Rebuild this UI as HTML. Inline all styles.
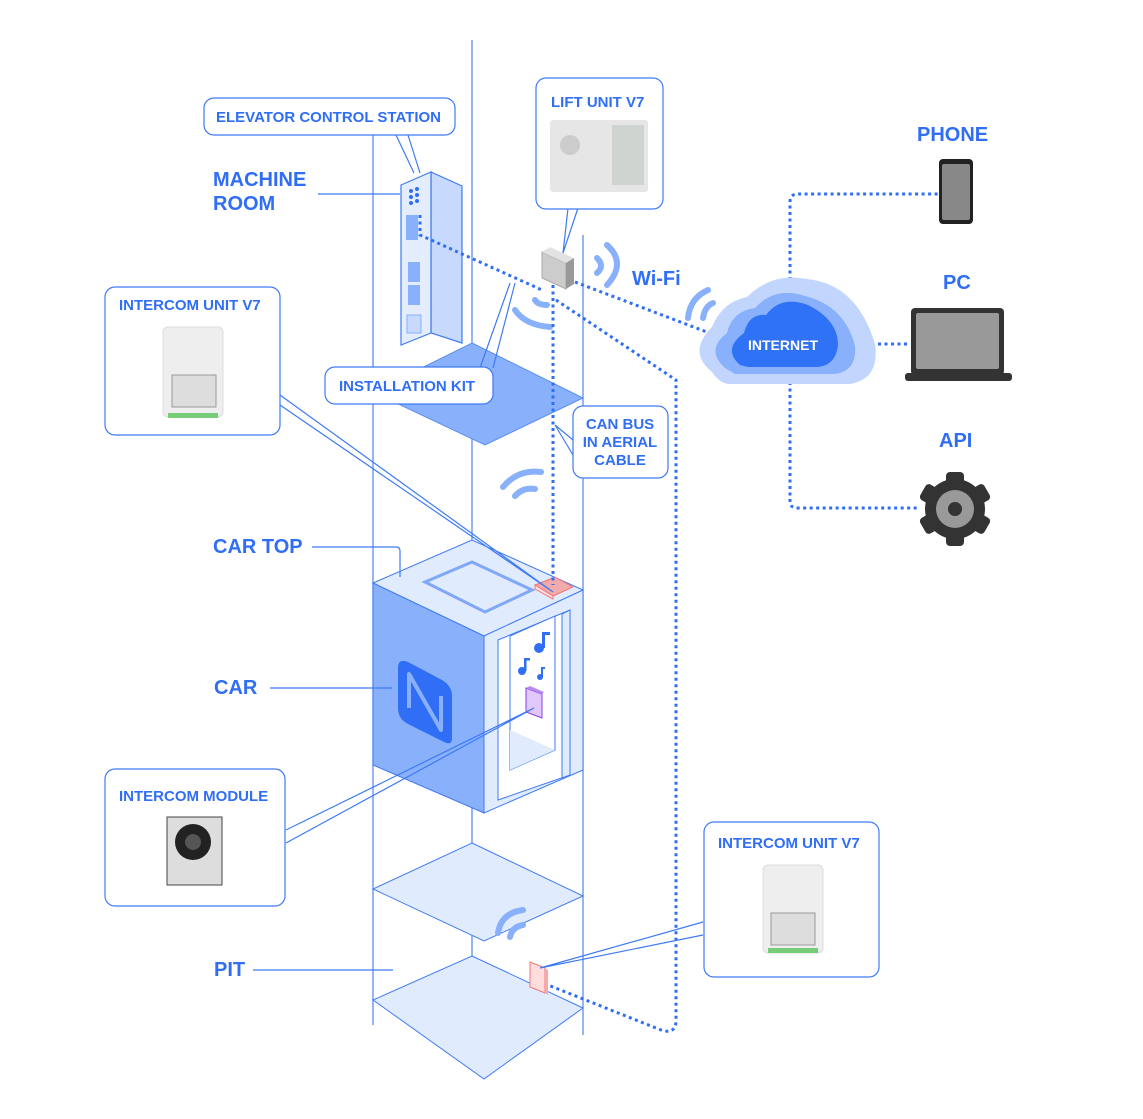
<!DOCTYPE html>
<html><head><meta charset="utf-8"><style>
html,body{margin:0;padding:0;background:#fff}
svg{display:block}
text{font-family:"Liberation Sans",sans-serif;font-weight:bold;fill:#2f6ef5}
</style></head><body>
<svg width="1143" height="1119" viewBox="0 0 1143 1119" xmlns="http://www.w3.org/2000/svg">
<g stroke="#5b8ef5" stroke-width="1.3" fill="none">
<line x1="472" y1="40" x2="472" y2="1030"/>
<line x1="373" y1="130" x2="373" y2="1025"/>
<line x1="583" y1="235" x2="583" y2="1035"/>
</g>
<polygon points="472,343 583,398 485,445 373,392" fill="#88b0fb" stroke="#5b8ef5"/>
<polygon points="431,172 462,186 462,343 431,333" fill="#c7dafd" stroke="#3f7af5" stroke-width="1.2"/>
<polygon points="401,185 431,172 431,333 401,345" fill="#e3edfe" stroke="#3f7af5" stroke-width="1.2"/>
<g fill="#2f6ef5"><circle cx="411" cy="191" r="2"/><circle cx="417" cy="189" r="2"/><circle cx="411" cy="197" r="2"/><circle cx="417" cy="195" r="2"/><circle cx="411" cy="203" r="2"/><circle cx="417" cy="201" r="2"/></g>
<rect x="406" y="215" width="12" height="25" fill="#88b0fb"/>
<rect x="408" y="262" width="12" height="20" fill="#88b0fb"/>
<rect x="408" y="285" width="12" height="20" fill="#88b0fb"/>
<rect x="407" y="315" width="14" height="18" fill="#c7dafd" stroke="#88b0fb"/>
<polygon points="373,583 472,540 583,590 484,636" fill="#e0ebfd" stroke="#3f7af5"/>
<polygon points="425,582 472,562 532,590 485,612" fill="#e0ebfd" stroke="#3f7af5" stroke-width="3" stroke-opacity=".6"/>
<polygon points="373,583 484,636 484,813 373,765" fill="#88b0fb" stroke="#3f7af5"/>
<polygon points="484,636 583,590 583,770 484,813" fill="#e0ebfd" stroke="#3f7af5"/>
<polygon points="498,640 570,610 570,775 498,800" fill="#fff" stroke="#3f7af5"/>
<polygon points="510,636 555,616 555,750 510,770" fill="#fff" stroke="#3f7af5"/>
<polygon points="510,730 555,750 510,770" fill="#e0ebfd"/>
<polygon points="562,614 570,610 570,775 562,778" fill="#e0ebfd" stroke="#3f7af5"/>
<!-- N logo -->
<path d="M398,668 q0,-10 10,-6 l34,18 q10,6 10,16 v42 q0,8 -8,4 l-36,-18 q-10,-5 -10,-16 z" fill="#2f6ef5"/>
<path d="M409,708 v-34 l32,56 v-34" stroke="#88b0fb" stroke-width="4" fill="none" stroke-linejoin="round"/>
<g fill="#2f6ef5"><circle cx="539" cy="648" r="5"/><rect x="542" y="632" width="3" height="16"/><rect x="542" y="632" width="8" height="3"/>
<circle cx="522" cy="671" r="4"/><rect x="524" y="658" width="2.5" height="13"/><rect x="524" y="658" width="6" height="2.5"/>
<circle cx="540" cy="677" r="3"/><rect x="541" y="667" width="2" height="10"/><rect x="541" y="667" width="4" height="2"/></g>
<polygon points="526,688 542,694 542,718 526,712" fill="#e0c8fb" stroke="#8a3fe0"/>
<polygon points="526,688 530,686 544,692 542,694" fill="#b98af0"/>
<polygon points="535,585 555,577 573,587 553,596" fill="#f3aaaa" stroke="#e77"/>
<polygon points="535,585 553,596 553,599 535,589" fill="#fdd" stroke="#e77"/>
<polygon points="472,843 583,896 484,941 373,889" fill="#e0ebfd" stroke="#3f7af5"/>
<polygon points="472,956 583,1008 484,1079 373,1000" fill="#e0ebfd" stroke="#3f7af5"/>
<g fill="none" stroke="#88b0fb" stroke-width="6" stroke-linecap="round">
<path d="M498,933 q3,-20 25,-23"/><path d="M510,937 q2,-10 13,-12"/>
<path d="M503,487 q15,-18 38,-15"/><path d="M515,496 q8,-9 20,-7"/>
<path d="M515,310 q10,15 35,17"/><path d="M535,300 q3,5 12,5"/>
<path d="M597,258 q8,8 0,15"/><path d="M607,245 q20,18 0,40"/>
<path d="M688,318 q2,-20 20,-28"/><path d="M703,318 q2,-12 10,-15"/>
</g>
<text x="632" y="285" font-size="20">Wi-Fi</text>
<polygon points="530,962 545,968 545,993 530,987" fill="#fdd" stroke="#e77"/>
<polygon points="545,968 548,970 548,995 545,993" fill="#f3aaaa"/>
<polygon points="542,252 566,263 566,289 542,278" fill="#ccc" stroke="#aaa"/>
<polygon points="542,252 550,247 574,258 566,263" fill="#e2e2e2"/>
<polygon points="566,263 574,258 574,284 566,289" fill="#999"/>
<g fill="none" stroke="#2f6ef5" stroke-width="3" stroke-dasharray="3,3.5">
<path d="M420,215 v20 l122,55"/>
<path d="M553,285 v300"/>
<path d="M575,282 l145,55"/>
<path d="M556,300 l120,80 v640 q0,15 -15,10 l-113,-45"/>
<path d="M790,280 v-78 q0,-8 8,-8 h140"/>
<path d="M878,344 h32"/>
<path d="M790,382 v120 q0,6 8,6 h122"/>
</g>
<path d="M712,372 q-25,-20 0,-45 q10,-25 35,-30 q25,-25 60,-18 q50,5 68,65 q5,35 -25,40 h-120 q-10,0 -18,-12z" fill="#c2d6fd"/>
<path d="M725,368 q-20,-18 2,-35 q5,-22 28,-25 q20,-22 50,-12 q40,10 50,50 q2,25 -20,28 h-100z" fill="#88b0fb"/>
<path d="M740,365 q-18,-16 4,-32 q5,-20 22,-18 q15,-20 42,-10 q30,15 30,40 q-2,20 -20,22 h-70z" fill="#3072f5"/>
<text x="748" y="350" font-size="14" style="fill:#fff">INTERNET</text>
<rect x="939" y="159" width="34" height="65" rx="4" fill="#222"/><rect x="942" y="164" width="28" height="56" rx="2" fill="#888"/>
<rect x="911" y="308" width="93" height="67" rx="4" fill="#333"/><rect x="916" y="313" width="83" height="56" rx="2" fill="#999"/>
<rect x="905" y="373" width="107" height="8" rx="3" fill="#333"/>
<circle cx="955" cy="509" r="30" fill="#333"/>
<g fill="#333"><rect x="946" y="472" width="18" height="74" rx="4"/><rect x="946" y="472" width="18" height="74" rx="4" transform="rotate(60 955 509)"/><rect x="946" y="472" width="18" height="74" rx="4" transform="rotate(120 955 509)"/></g>
<circle cx="955" cy="509" r="19" fill="#999"/><circle cx="955" cy="509" r="7" fill="#333"/>
<text x="917" y="141" font-size="20">PHONE</text>
<text x="943" y="289" font-size="20">PC</text>
<text x="939" y="447" font-size="20">API</text>
<g stroke="#3f7af5" stroke-width="1.2" fill="none">
<path d="M396,135 l18,38 M408,135 l12,38"/>
<path d="M318,194 h82"/>
<path d="M568,208 l-5,45 M578,208 l-15,45"/>
<path d="M280,395 l273,197 M280,405 l273,187"/>
<path d="M510,283 l-30,85 M515,283 l-22,85"/>
<path d="M573,440 l-18,-15 M573,455 l-18,-30"/>
<path d="M312,547 h84 q4,0 4,4 v26"/>
<path d="M270,688 h122"/>
<path d="M286,830 l248,-122 M286,843 l248,-135"/>
<path d="M253,970 h140"/>
<path d="M703,922 l-163,46 M703,935 l-163,33"/>
</g>
<g fill="#fff" stroke="#3f7af5" stroke-width="1.2">
<rect x="204" y="98" width="251" height="37" rx="10"/>
<rect x="536" y="78" width="127" height="131" rx="10"/>
<rect x="105" y="287" width="175" height="148" rx="10"/>
<rect x="325" y="367" width="168" height="37" rx="10"/>
<rect x="573" y="406" width="95" height="72" rx="10"/>
<rect x="105" y="769" width="180" height="137" rx="10"/>
<rect x="704" y="822" width="175" height="155" rx="10"/>
</g>
<text x="216" y="122" font-size="15">ELEVATOR CONTROL STATION</text>
<text x="551" y="107" font-size="15">LIFT UNIT V7</text>
<text x="119" y="310" font-size="15">INTERCOM UNIT V7</text>
<text x="339" y="391" font-size="15">INSTALLATION KIT</text>
<text x="620" y="429" font-size="15" text-anchor="middle">CAN BUS</text>
<text x="620" y="447" font-size="15" text-anchor="middle">IN AERIAL</text>
<text x="620" y="465" font-size="15" text-anchor="middle">CABLE</text>
<text x="119" y="801" font-size="15">INTERCOM MODULE</text>
<text x="718" y="848" font-size="15">INTERCOM UNIT V7</text>
<text x="213" y="186" font-size="20">MACHINE</text>
<text x="213" y="210" font-size="20">ROOM</text>
<text x="213" y="553" font-size="20">CAR TOP</text>
<text x="214" y="694" font-size="20">CAR</text>
<text x="214" y="976" font-size="20">PIT</text>
<rect x="550" y="120" width="98" height="72" rx="3" fill="#e6e6e6"/>
<rect x="612" y="125" width="32" height="60" fill="#d0d4d0"/>
<circle cx="570" cy="145" r="10" fill="#ccc"/>
<rect x="163" y="327" width="60" height="90" rx="5" fill="#eee" stroke="#ddd"/>
<rect x="172" y="375" width="44" height="32" fill="#ddd" stroke="#999"/>
<rect x="168" y="413" width="50" height="5" fill="#7c7"/>
<rect x="763" y="865" width="60" height="88" rx="5" fill="#eee" stroke="#ddd"/>
<rect x="771" y="913" width="44" height="32" fill="#ddd" stroke="#999"/>
<rect x="768" y="948" width="50" height="5" fill="#7c7"/>
<rect x="167" y="817" width="55" height="68" fill="#ddd" stroke="#444"/>
<circle cx="193" cy="842" r="18" fill="#222"/><circle cx="193" cy="842" r="8" fill="#555"/>
</svg>
</body></html>
